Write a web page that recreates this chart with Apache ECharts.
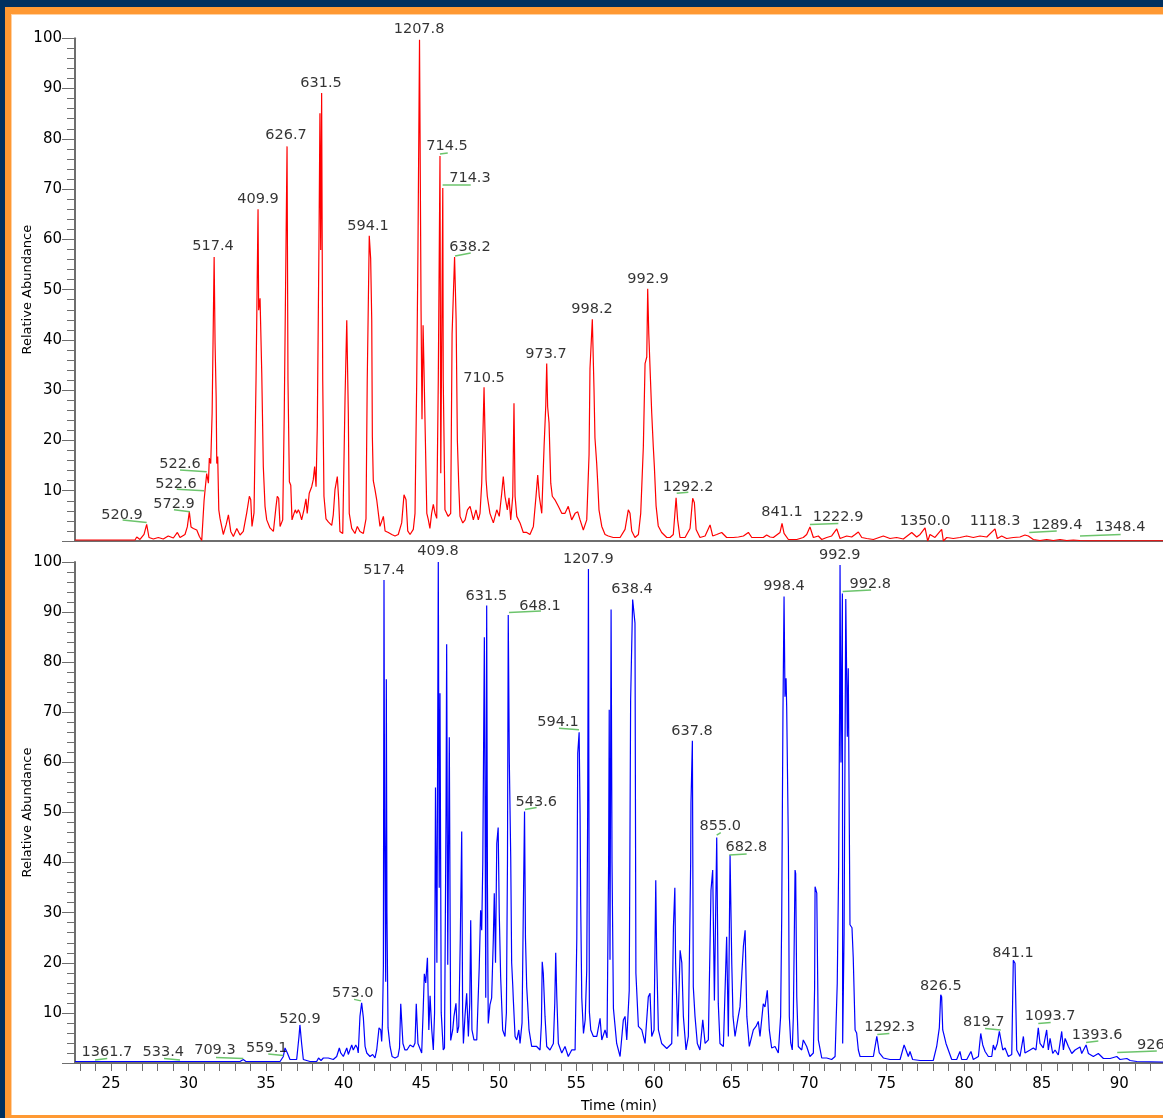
<!DOCTYPE html>
<html>
<head>
<meta charset="utf-8">
<script src="https://cdn.jsdelivr.net/npm/echarts@6/dist/echarts.min.js"></script>
<style>html,body{margin:0;padding:0;background:#fff;}#main{width:1163px;height:1118px;}</style>
</head>
<body>
<div id="main"></div>
<script>
// Time range of the axes (min)
const timeRange = [22.68, 92.82];
const yTicks = [0, 100, 10];

// Top trace (red): [time (min), relative abundance]
const topTrace = [[22.68,0.2],[26.55,0.2],[26.66,0.8],[26.87,0.3],[27.13,1.3],[27.30,3.3],[27.45,0.7],[27.73,0.4],[28.05,0.7],[28.37,0.4],[28.69,1.0],[29.02,0.6],[29.28,1.7],[29.45,0.7],[29.77,1.3],[29.92,2.8],[30.05,5.8],[30.16,2.8],[30.31,2.5],[30.53,2.2],[30.70,0.9],[30.85,0.1],[31.00,8.0],[31.06,10.0],[31.17,13.4],[31.28,11.5],[31.34,16.5],[31.43,15.4],[31.52,25.4],[31.65,56.5],[31.71,39.3],[31.78,28.7],[31.82,15.4],[31.88,16.8],[31.95,6.2],[32.03,4.5],[32.24,1.3],[32.42,3.2],[32.57,5.2],[32.72,1.9],[32.89,0.9],[33.11,2.5],[33.32,1.2],[33.53,1.9],[33.75,5.6],[33.92,8.9],[34.01,8.2],[34.09,2.9],[34.22,5.6],[34.35,32],[34.48,66],[34.52,45.9],[34.61,48.3],[34.72,33.3],[34.82,14.8],[34.93,6.9],[35.04,4.2],[35.25,2.6],[35.47,1.9],[35.64,6.9],[35.72,8.9],[35.81,8.5],[35.90,2.9],[36.07,4.2],[36.17,25.4],[36.35,78.5],[36.41,32],[36.50,11.8],[36.59,11.1],[36.67,4.2],[36.80,5.5],[36.88,6.2],[36.97,5.5],[37.08,6.2],[37.18,5.5],[37.29,4.2],[37.44,6.2],[37.57,8.4],[37.65,5.5],[37.78,9.5],[37.94,10.8],[38.04,12.2],[38.13,14.8],[38.22,10.8],[38.30,22.8],[38.41,60],[38.47,85.1],[38.52,57.9],[38.58,89.1],[38.65,32],[38.73,8.9],[38.86,4.4],[39.01,3.8],[39.23,3.1],[39.33,5.2],[39.44,10.2],[39.59,12.8],[39.68,8.2],[39.76,1.9],[39.94,1.5],[40.09,28.7],[40.20,43.9],[40.30,25.4],[40.36,5.5],[40.52,2.5],[40.73,1.5],[40.88,2.9],[41.05,1.9],[41.27,1.5],[41.44,4.4],[41.52,32],[41.65,60.7],[41.74,56.2],[41.81,43.9],[41.85,20.7],[41.91,12],[42.02,10.2],[42.13,8.2],[42.34,2.9],[42.56,4.9],[42.67,2.0],[42.88,1.7],[43.10,1.3],[43.31,1.0],[43.52,1.3],[43.74,3.6],[43.89,9.2],[44.02,8.2],[44.13,2.0],[44.28,1.3],[44.49,2.3],[44.60,5.5],[44.71,32],[44.79,58.2],[44.89,99.7],[44.99,45.6],[45.05,24.2],[45.12,42.9],[45.18,34],[45.26,21.3],[45.36,5.5],[45.46,4.2],[45.56,2.5],[45.67,5.5],[45.78,7.3],[45.89,5.5],[46.00,4.5],[46.10,32],[46.21,76.6],[46.26,13.5],[46.39,70.2],[46.42,32],[46.53,6.2],[46.64,5.5],[46.74,4.9],[46.90,5.5],[46.99,41.2],[47.15,56.5],[47.25,44],[47.33,20],[47.42,11],[47.50,4.9],[47.68,3.6],[47.83,4.2],[47.98,6.2],[48.15,6.9],[48.26,5.5],[48.36,4.2],[48.53,6.2],[48.68,4.2],[48.79,5.5],[48.90,11.5],[49.05,30.6],[49.11,21.7],[49.18,12.2],[49.26,8.9],[49.43,5.5],[49.65,3.6],[49.87,6.2],[50.03,4.9],[50.19,9.5],[50.29,12.8],[50.40,8.9],[50.55,6.2],[50.66,8.6],[50.77,4.2],[50.90,8.9],[50.98,27.4],[51.05,8.9],[51.16,4.9],[51.37,3.6],[51.58,1.7],[51.80,1.7],[52.01,1.3],[52.23,2.9],[52.40,8.9],[52.51,13.1],[52.61,8.9],[52.77,5.5],[52.92,18.8],[53.03,27],[53.09,35.3],[53.15,26.7],[53.24,23.5],[53.35,11.5],[53.45,8.9],[53.62,8.2],[53.84,6.9],[54.06,5.5],[54.27,5.5],[54.48,6.9],[54.70,4.2],[54.92,5.5],[55.09,5.8],[55.24,4.2],[55.45,2.2],[55.67,4.2],[55.82,17.2],[55.88,34.3],[56.03,44.1],[56.14,30],[56.20,20.5],[56.31,15.5],[56.38,11.5],[56.46,6.2],[56.64,2.9],[56.85,1.3],[57.06,1.0],[57.38,0.7],[57.82,0.7],[58.14,2.3],[58.35,6.2],[58.46,5.5],[58.57,2.0],[58.78,0.7],[59.00,1.3],[59.15,5.5],[59.32,18.8],[59.43,35.3],[59.54,36.6],[59.60,50.2],[59.67,41.2],[59.75,41.2],[59.86,25.4],[59.96,18.8],[60.03,14.8],[60.14,7.0],[60.28,3.0],[60.50,1.7],[60.83,0.7],[61.04,0.7],[61.25,1.3],[61.43,8.6],[61.53,4.2],[61.68,0.7],[62.01,0.7],[62.33,2.5],[62.50,8.5],[62.61,7.6],[62.72,2.3],[62.97,0.7],[63.30,1.0],[63.62,3.2],[63.79,1.0],[64.05,1.3],[64.37,1.7],[64.69,0.7],[65.12,0.7],[65.45,0.8],[65.77,1.0],[66.09,1.7],[66.31,0.7],[66.73,0.7],[67.05,0.7],[67.27,1.2],[67.38,1.3],[67.49,0.8],[67.70,0.7],[67.81,0.7],[68.13,1.7],[68.26,3.5],[68.39,1.5],[68.67,0.3],[69.21,0.3],[69.63,0.7],[69.85,1.3],[70.06,2.8],[70.28,0.7],[70.60,1.0],[70.82,0.3],[71.14,0.7],[71.46,1.0],[71.79,2.4],[72.00,0.5],[72.43,1.0],[72.75,0.8],[72.97,1.3],[73.18,1.8],[73.40,0.7],[73.72,0.5],[74.15,0.3],[74.79,1.0],[75.22,0.5],[75.65,0.7],[76.08,0.4],[76.62,1.7],[76.94,0.8],[77.16,1.3],[77.48,2.6],[77.65,0.0],[77.80,1.3],[78.12,0.7],[78.55,2.3],[78.66,0.0],[78.88,0.7],[79.30,0.5],[79.73,0.7],[80.16,1.0],[80.59,0.7],[81.02,1.0],[81.46,0.8],[81.99,2.4],[82.14,0.5],[82.42,1.0],[82.74,0.5],[83.17,0.7],[83.60,0.8],[83.92,1.2],[84.14,1.0],[84.46,0.3],[84.89,0.1],[85.32,0.3],[85.75,0.1],[86.18,0.3],[86.61,0.1],[87.04,0.2],[87.47,0.1],[88.12,0.05],[92.82,0.05]];

// Bottom trace (blue): [time (min), relative abundance]
const bottomTrace = [[22.68,0.3],[33.32,0.3],[33.53,0.7],[33.70,0.3],[35.90,0.3],[36.11,1.3],[36.22,3.0],[36.37,2.0],[36.54,0.7],[36.97,0.7],[37.12,5.3],[37.18,7.6],[37.29,3.9],[37.40,0.7],[37.83,0.3],[38.26,0.3],[38.38,1.0],[38.54,0.5],[38.69,1.0],[38.80,0.8],[39.01,1.0],[39.33,0.7],[39.55,1.3],[39.72,3.0],[39.81,2.0],[39.98,1.3],[40.20,3.0],[40.30,1.7],[40.52,3.6],[40.62,2.6],[40.78,3.6],[40.88,3.0],[40.94,2.0],[41.05,9.3],[41.16,12.0],[41.27,9.0],[41.38,3.3],[41.49,2.0],[41.70,1.3],[41.87,1.7],[42.02,1.0],[42.13,2.6],[42.28,7.0],[42.39,6.6],[42.45,4.3],[42.50,8],[42.56,19.2],[42.60,96.4],[42.64,47],[42.71,16.2],[42.75,76.6],[42.79,30],[42.86,7.0],[42.99,3.3],[43.12,1.3],[43.31,1.0],[43.50,1.3],[43.60,3],[43.68,11.8],[43.74,11.5],[43.82,3.9],[43.95,2.6],[44.08,2.6],[44.28,3.6],[44.49,3.2],[44.60,4],[44.68,11.8],[44.79,3.9],[45.03,2.0],[45.13,10.9],[45.20,17.8],[45.29,16.0],[45.40,21.0],[45.49,6.6],[45.57,13.4],[45.68,6.6],[45.78,2.6],[45.86,10],[45.92,55],[46.01,20],[46.10,100],[46.16,35],[46.21,73.8],[46.29,10],[46.42,2.6],[46.50,3],[46.60,50],[46.64,83.6],[46.71,19.6],[46.81,65],[46.90,4.5],[47.03,6.6],[47.11,9.3],[47.24,11.9],[47.33,6.0],[47.42,7.3],[47.52,25],[47.61,46.2],[47.67,10],[47.72,3.9],[47.82,9.3],[47.93,13.9],[48.04,5.3],[48.13,12],[48.19,28.5],[48.27,6.6],[48.40,4.6],[48.58,4.6],[48.74,19.2],[48.83,30.5],[48.90,26.5],[48.97,40],[49.07,85],[49.13,40],[49.16,13],[49.22,91.3],[49.27,35],[49.32,7.9],[49.43,11.6],[49.54,13],[49.65,25],[49.71,33.9],[49.79,20],[49.87,43.8],[49.96,47],[50.03,30],[50.12,17.2],[50.25,6.6],[50.40,5.3],[50.49,10],[50.56,40],[50.61,89.4],[50.68,60],[50.77,41],[50.83,20],[50.90,15.5],[50.94,12.5],[51.05,5.3],[51.16,4.6],[51.29,6.6],[51.37,3.9],[51.50,8],[51.58,30],[51.66,50.2],[51.72,25],[51.80,15.2],[51.86,11.9],[51.95,6.6],[52.12,3.3],[52.44,3.3],[52.66,2.6],[52.75,8],[52.80,20.2],[52.87,17.9],[52.98,9.3],[53.09,3.3],[53.30,2.6],[53.52,3.9],[53.61,12],[53.67,22.0],[53.74,13.2],[53.84,3.9],[54.06,2.0],[54.27,3.3],[54.48,1.3],[54.70,2.6],[54.92,2.6],[55.03,25],[55.09,61.8],[55.18,66],[55.24,49.9],[55.28,31.9],[55.35,13],[55.46,5.9],[55.57,8.6],[55.67,18.5],[55.73,50],[55.78,98.6],[55.84,10.2],[55.93,6.6],[56.10,5.3],[56.32,5.3],[56.53,8.9],[56.64,4.6],[56.85,6.6],[56.98,5],[57.08,40],[57.12,70.5],[57.17,20.6],[57.24,90.5],[57.30,40],[57.39,10.9],[57.60,3.9],[57.82,1.3],[58.03,8.6],[58.14,9.3],[58.25,4.6],[58.41,14.5],[58.50,72.5],[58.63,92.5],[58.78,87.8],[58.84,17.9],[59.00,7.3],[59.22,6.6],[59.43,3.9],[59.64,13.2],[59.75,13.9],[59.86,5.3],[60.01,6.6],[60.12,36.5],[60.18,20.8],[60.29,6.6],[60.50,3.9],[60.83,2.9],[61.15,3.9],[61.26,27.2],[61.35,35],[61.40,19.9],[61.54,5.3],[61.69,22.5],[61.80,20],[61.90,9.3],[62.07,2.6],[62.22,5.3],[62.37,40],[62.39,51.9],[62.48,64.3],[62.54,15.2],[62.65,9.3],[62.80,3.9],[62.97,2.6],[63.15,8.6],[63.30,3.9],[63.51,4.6],[63.68,34.5],[63.79,38.5],[63.90,12.5],[64.05,45],[64.15,11.9],[64.26,3.9],[64.48,3.3],[64.69,25.2],[64.80,5.3],[64.91,41.5],[65.02,19.9],[65.10,9.3],[65.23,5.3],[65.44,9.3],[65.55,11.2],[65.77,23.3],[65.88,26.5],[65.99,9.3],[66.15,3.3],[66.41,6.6],[66.58,7.3],[66.73,8.3],[66.84,5.3],[67.05,11.8],[67.16,11.2],[67.31,14.5],[67.44,6.6],[67.59,3.0],[67.81,3.3],[68.02,2.0],[68.17,9.3],[68.24,29.2],[68.32,70],[68.39,93.1],[68.45,73.1],[68.52,76.8],[68.56,71.1],[68.67,43.2],[68.73,9.3],[68.82,4.0],[68.92,2.6],[68.99,9.3],[69.10,38.5],[69.14,37.8],[69.21,13.2],[69.31,3.3],[69.53,2.6],[69.63,4.6],[69.85,3.3],[70.06,1.3],[70.28,2.0],[70.36,15],[70.39,35.2],[70.50,33.9],[70.60,4.6],[70.82,1.0],[71.14,1.0],[71.46,0.7],[71.68,1.3],[71.82,15.9],[71.91,39.2],[71.97,70],[72.00,99.4],[72.06,60],[72.15,93.7],[72.17,3.9],[72.26,25.8],[72.37,92.6],[72.47,65.1],[72.53,78.8],[72.64,27.6],[72.77,27],[72.85,21.1],[72.97,6.6],[73.07,6.0],[73.18,2.6],[73.29,1.3],[73.72,1.3],[73.93,1.3],[74.15,1.3],[74.37,5.3],[74.43,5.2],[74.53,2.0],[74.79,1.0],[75.22,0.7],[75.87,0.7],[76.13,3.6],[76.25,2.6],[76.40,1.3],[76.51,2.3],[76.68,0.7],[77.16,0.5],[78.01,0.5],[78.23,3.3],[78.40,7.0],[78.49,13.6],[78.55,13.2],[78.62,6.6],[78.70,5.6],[78.83,3.9],[78.98,2.6],[79.20,0.7],[79.52,0.7],[79.73,2.3],[79.84,0.7],[80.17,0.7],[80.44,2.3],[80.59,0.7],[80.92,1.3],[81.07,5.9],[81.20,3.6],[81.35,2.3],[81.56,1.3],[81.78,1.3],[81.88,3.6],[81.99,2.6],[82.14,3.9],[82.27,6.3],[82.36,6.0],[82.49,2.6],[82.64,3.0],[82.85,1.3],[83.07,1.7],[83.17,20.5],[83.28,19.9],[83.39,2.6],[83.60,1.3],[83.82,5.3],[83.92,2.0],[84.25,2.6],[84.46,3.0],[84.63,2.6],[84.78,7.0],[84.89,3.9],[85.10,3.0],[85.32,6.6],[85.43,2.6],[85.54,4.9],[85.71,1.9],[85.86,2.6],[86.07,1.6],[86.29,6.3],[86.40,2.6],[86.51,4.9],[86.72,3.3],[86.94,1.9],[87.15,2.6],[87.47,3.2],[87.58,1.9],[87.86,3.6],[88.01,1.9],[88.33,1.3],[88.65,1.9],[88.98,0.9],[89.41,0.9],[89.84,1.3],[90.05,0.7],[90.49,0.9],[90.70,0.5],[91.13,0.3],[92.82,0.2]];

// Peak annotations: [time, abundance at text centre, text, align]
const topLabels = [[44.86,101.8,'1207.8'],[38.54,91.05,'631.5'],[36.28,80.7,'626.7'],[34.48,68.0,'409.9'],[31.58,58.6,'517.4'],[41.57,62.6,'594.1'],[46.66,78.5,'714.5'],[48.14,72.2,'714.3'],[48.14,58.4,'638.2'],[49.05,32.4,'710.5'],[53.04,37.2,'973.7'],[56.01,46.1,'998.2'],[59.62,52.1,'992.9'],[29.45,15.3,'522.6'],[29.19,11.3,'522.6'],[29.06,7.4,'572.9'],[25.71,5.2,'520.9'],[62.20,10.7,'1292.2'],[68.26,5.8,'841.1'],[71.87,4.8,'1222.9'],[77.48,4.0,'1350.0'],[81.99,4.0,'1118.3'],[85.99,3.2,'1289.4'],[90.05,2.8,'1348.4']];
const bottomLabels = [[42.60,98.4,'517.4'],[46.08,102.2,'409.8'],[49.20,93.2,'631.5'],[52.66,91.2,'648.1'],[55.77,100.6,'1207.9'],[58.59,94.6,'638.4'],[53.82,68.1,'594.1'],[52.42,52.0,'543.6'],[62.46,66.3,'637.8'],[64.28,47.2,'855.0'],[65.96,43.1,'682.8'],[68.39,95.1,'998.4'],[71.98,101.4,'992.9'],[73.95,95.5,'992.8'],[40.59,13.9,'573.0'],[37.18,8.7,'520.9'],[35.04,2.9,'559.1'],[31.70,2.5,'709.3'],[28.37,2.1,'533.4'],[24.74,2.1,'1361.7'],[75.19,7.2,'1292.3'],[78.50,15.4,'826.5'],[81.27,8.2,'819.7'],[83.15,22.0,'841.1'],[85.54,9.4,'1093.7'],[88.58,5.6,'1393.6'],[91.15,3.6,'926','left']];

// Green leader lines: [t1, v1, t2, v2]
const topLeaders = [[46.21,77.0,46.71,77.2],[46.38,70.9,48.19,70.9],[47.18,56.7,48.19,57.3],[29.45,14.1,31.17,13.8],[29.24,10.3,31.00,10.0],[29.06,6.2,30.09,5.8],[25.75,4.2,27.30,3.7],[61.47,9.5,62.22,9.7],[70.06,3.3,71.89,3.5],[84.20,1.7,85.97,2.0],[87.47,1.0,90.09,1.3]];
const bottomLeaders = [[50.66,89.9,52.72,90.2],[53.88,66.8,55.17,66.5],[51.69,50.6,52.44,51.0],[64.05,45.5,64.31,46.0],[64.86,41.5,65.98,41.7],[72.17,94.1,74.00,94.4],[40.67,12.7,41.12,12.4],[74.40,5.7,75.18,5.9],[81.35,6.9,82.36,6.6],[84.78,7.9,85.58,8.1],[87.86,4.1,88.65,4.4],[89.87,2.1,92.42,2.4],[35.14,1.8,36.11,1.5],[31.77,1.1,33.53,0.9],[28.42,0.9,29.45,0.6],[23.97,0.6,24.76,0.9]];

const FONT = 'DejaVu Sans';
const AXIS = '#6e6e6e';
const TXT = '#000000';

function yAxisDef(gi) {
  return {
    type: 'value', gridIndex: gi, min: yTicks[0], max: yTicks[1], interval: yTicks[2],
    axisLine: {show: true, lineStyle: {color: AXIS, width: 2}},
    axisTick: {show: true, length: 13, lineStyle: {color: AXIS, width: 1}},
    minorTick: {show: true, splitNumber: 5, length: 8, lineStyle: {color: AXIS, width: 1}},
    splitLine: {show: false},
    axisLabel: {showMinLabel: false, margin: 13, color: TXT, fontSize: 15, fontFamily: FONT},
    name: 'Relative Abundance', nameLocation: 'middle', nameGap: 41, nameMoveOverlap: false,
    nameTextStyle: {color: TXT, fontSize: 13, fontFamily: FONT}
  };
}
function xAxisDef(gi, showLabels) {
  return {
    type: 'value', gridIndex: gi, min: timeRange[0], max: timeRange[1], splitNumber: 70,
    axisLine: {show: true, onZero: false, lineStyle: {color: AXIS, width: 2}},
    axisTick: {show: showLabels, length: 8, lineStyle: {color: AXIS, width: 1}},
    splitLine: {show: false},
    axisLabel: {show: showLabels, showMinLabel: false, showMaxLabel: false, margin: 14,
      color: TXT, fontSize: 15, fontFamily: FONT,
      formatter: v => (Math.abs(v % 5) < 1e-6 ? String(Math.round(v)) : '')},
    name: showLabels ? 'Time (min)' : '', nameLocation: 'middle', nameGap: 36,
    nameTextStyle: {color: TXT, fontSize: 14, fontFamily: FONT}
  };
}
function labelSeries(gi, labels, leaders) {
  return {
    type: 'scatter', xAxisIndex: gi, yAxisIndex: gi, symbolSize: 1, silent: true, clip: false,
    itemStyle: {color: 'rgba(0,0,0,0)'}, z: 5,
    label: {show: true, position: 'inside', color: TXT, fontSize: 14.5, fontFamily: FONT},
    data: labels.map(l => ({value: [l[0], l[1]], label: {formatter: l[2], align: l[3] || 'center'}})),
    markLine: {
      silent: true, symbol: 'none', animation: false,
      label: {show: false},
      lineStyle: {color: '#6cc46c', width: 1.5, type: 'solid'},
      emphasis: {disabled: true},
      data: leaders.map(s => [{coord: [s[0], s[1]]}, {coord: [s[2], s[3]]}])
    }
  };
}

const chart = echarts.init(document.getElementById('main'));
chart.setOption({
  animation: false,
  backgroundColor: '#ffffff',
  graphic: [
    {type: 'rect', shape: {x: 0, y: 0, width: 1163, height: 7}, style: {fill: '#00305f'}, z: 100},
    {type: 'rect', shape: {x: 0, y: 7, width: 1163, height: 7}, style: {fill: '#ff9933'}, z: 100},
    {type: 'rect', shape: {x: 11, y: 14, width: 1152, height: 1}, style: {fill: '#ffd1a3'}, z: 100},
    {type: 'rect', shape: {x: 0, y: 0, width: 5, height: 1118}, style: {fill: '#00305f'}, z: 100},
    {type: 'rect', shape: {x: 5, y: 7, width: 6, height: 1111}, style: {fill: '#ff9933'}, z: 100},
    {type: 'rect', shape: {x: 11, y: 14, width: 1, height: 1104}, style: {fill: '#ffd1a3'}, z: 100},
    {type: 'rect', shape: {x: 5, y: 1115, width: 1158, height: 3}, style: {fill: '#ff9933'}, z: 100}
  ],
  grid: [
    {left: 75, right: 0, top: 38.3, height: 502.7},
    {left: 75, right: 0, top: 562, height: 501}
  ],
  xAxis: [xAxisDef(0, false), xAxisDef(1, true)],
  yAxis: [yAxisDef(0), yAxisDef(1)],
  series: [
    {type: 'line', xAxisIndex: 0, yAxisIndex: 0, data: topTrace, showSymbol: false, symbol: 'none',
      lineStyle: {color: '#ff0000', width: 1.2}, silent: true, z: 3},
    {type: 'line', xAxisIndex: 1, yAxisIndex: 1, data: bottomTrace, showSymbol: false, symbol: 'none',
      lineStyle: {color: '#0000ff', width: 1.2}, silent: true, z: 3},
    labelSeries(0, topLabels, topLeaders),
    labelSeries(1, bottomLabels, bottomLeaders)
  ]
});
</script>
</body>
</html>
